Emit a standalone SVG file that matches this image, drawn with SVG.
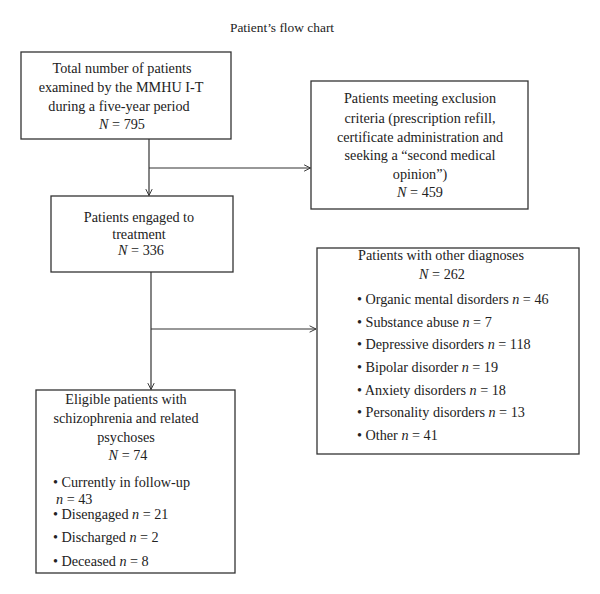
<svg xmlns="http://www.w3.org/2000/svg" width="600" height="594" viewBox="0 0 600 594">
<style>
text{font-family:"Liberation Serif","Times New Roman",serif;font-size:14.2px;fill:#222}
.t{font-size:13.4px}
.c{text-anchor:middle}
.i{font-style:italic}
.box{fill:#fff;stroke:#333;stroke-width:1.3}
.ln{fill:none;stroke:#333;stroke-width:1.2}
</style>
<defs>
<marker id="arr" viewBox="0 0 10 10" refX="9" refY="5" markerWidth="8" markerHeight="8" markerUnits="userSpaceOnUse" orient="auto">
<path d="M1,1 L9,5 L1,9" fill="none" stroke="#333" stroke-width="1.2"/>
</marker>
</defs>
<rect width="600" height="594" fill="#fff"/>
<text class="c t" x="282" y="32">Patient’s flow chart</text>
<g id="connectors">
<line class="ln" x1="149" y1="139" x2="149" y2="195.5" marker-end="url(#arr)"/>
<line class="ln" x1="149" y1="168" x2="310.5" y2="168" marker-end="url(#arr)"/>
<line class="ln" x1="151" y1="272" x2="151" y2="389.5" marker-end="url(#arr)"/>
<line class="ln" x1="151" y1="329" x2="316" y2="329" marker-end="url(#arr)"/>
</g>
<g id="total">
<rect class="box" x="21" y="52" width="210" height="87"/>
<text class="c" x="122" y="73">Total number of patients</text>
<text class="c" x="121" y="92">examined by the MMHU I-T</text>
<text class="c" x="119" y="111">during a five-year period</text>
<text class="c" x="122" y="129"><tspan class="i">N</tspan> = 795</text>
</g>
<g id="excluded">
<rect class="box" x="311" y="81" width="217" height="128"/>
<text class="c" x="420" y="103">Patients meeting exclusion</text>
<text class="c" x="420" y="123">criteria (prescription refill,</text>
<text class="c" x="420" y="142">certificate administration and</text>
<text class="c" x="420" y="160">seeking  a “second medical</text>
<text class="c" x="420" y="179">opinion”)</text>
<text class="c" x="420" y="197"><tspan class="i">N</tspan> = 459</text>
</g>
<g id="engaged">
<rect class="box" x="51" y="196" width="182" height="76"/>
<text class="c" x="139" y="222">Patients engaged to</text>
<text class="c" x="139" y="239">treatment</text>
<text class="c" x="141" y="255"><tspan class="i">N</tspan> = 336</text>
</g>
<g id="other">
<rect class="box" x="317" y="248" width="262" height="206"/>
<text class="c" x="441" y="260">Patients with other diagnoses</text>
<text class="c" x="442" y="279"><tspan class="i">N</tspan> = 262</text>
<text x="357" y="304">• Organic mental disorders <tspan class="i">n</tspan> = 46</text>
<text x="357" y="327">• Substance abuse <tspan class="i">n</tspan> = 7</text>
<text x="357" y="349">• Depressive disorders <tspan class="i">n</tspan> = 118</text>
<text x="357" y="372">• Bipolar disorder <tspan class="i">n</tspan> = 19</text>
<text x="357" y="395">• Anxiety disorders <tspan class="i">n</tspan> = 18</text>
<text x="357" y="417">• Personality disorders <tspan class="i">n</tspan> = 13</text>
<text x="357" y="440">• Other <tspan class="i">n</tspan> = 41</text>
</g>
<g id="eligible">
<rect class="box" x="36" y="390" width="199" height="183"/>
<text class="c" x="126" y="404">Eligible patients with</text>
<text class="c" x="126" y="423">schizophrenia and related</text>
<text class="c" x="126" y="442">psychoses</text>
<text class="c" x="128" y="460"><tspan class="i">N</tspan> = 74</text>
<text x="53" y="487">• Currently in follow-up</text>
<text x="56" y="504"><tspan class="i">n</tspan> = 43</text>
<text x="53" y="519">• Disengaged <tspan class="i">n</tspan> = 21</text>
<text x="53" y="542">• Discharged <tspan class="i">n</tspan> = 2</text>
<text x="53" y="566">• Deceased <tspan class="i">n</tspan> = 8</text>
</g>
</svg>
